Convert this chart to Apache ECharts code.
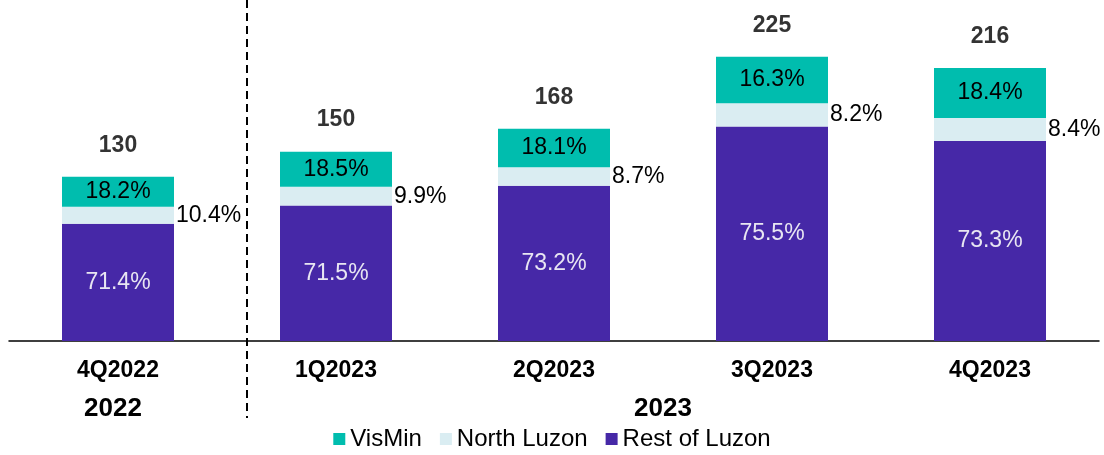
<!DOCTYPE html>
<html>
<head>
<meta charset="utf-8">
<script src="https://cdn.jsdelivr.net/npm/echarts@6/dist/echarts.min.js"></script>
<style>
  html, body { margin: 0; padding: 0; background: #fff; }
  #echart { width: 1104px; height: 455px; }
</style>
</head>
<body>
<div id="echart"></div>
<script>
// --- data ---
var categories = ['4Q2022', '1Q2023', '2Q2023', '3Q2023', '4Q2023'];
var totals     = [130, 150, 168, 225, 216];
var visMinPct  = [18.2, 18.5, 18.1, 16.3, 18.4];
var northPct   = [10.4, 9.9, 8.7, 8.2, 8.4];
var restPct    = [71.4, 71.5, 73.2, 75.5, 73.3];
var yearLabels = ['2022', '2023'];

// shares -> absolute values so the stack height matches each total
function share(pcts) {
	return pcts.map(function(p, i) { return totals[i] * p / 100; });
}

function pctLabel(pcts) {
	return function(params) { return pcts[params.dataIndex].toFixed(1) + '%'; };
}

var font = '"Liberation Sans", Arial, sans-serif';

var eChart = echarts.init(document.getElementById('echart'));

var eChartOption = {
	animation: false,
	textStyle: { fontFamily: font },
	grid: { left: 9, right: 5, top: 0, bottom: 114 },
	legend: {
		data: ['VisMin', 'North Luzon', 'Rest of Luzon'],
		bottom: -1,
		left: 'center',
		icon: 'rect',
		itemWidth: 12,
		itemHeight: 12,
		itemGap: 18,
		textStyle: { fontSize: 24, color: '#000', fontFamily: font, padding: [0, 0, 0, 0] }
	},
	xAxis: {
		type: 'category',
		data: categories,
		axisLine: { lineStyle: { color: '#000', width: 1.5 } },
		axisTick: { show: false },
		axisLabel: { color: '#000', fontSize: 23, fontWeight: 'bold', margin: 18, fontFamily: font }
	},
	yAxis: {
		type: 'value',
		min: 0,
		max: 270,
		show: false
	},
	series: [
		{
			name: 'Rest of Luzon',
			type: 'bar',
			stack: 'total',
			barWidth: 112,
			data: share(restPct),
			itemStyle: { color: '#4628a7' },
			label: {
				show: true,
				position: 'inside',
				color: '#e8e6f2',
				fontSize: 23,
				fontFamily: font,
				formatter: pctLabel(restPct)
			}
		},
		{
			name: 'North Luzon',
			type: 'bar',
			stack: 'total',
			data: share(northPct),
			itemStyle: { color: '#daedf2' },
			label: {
				show: true,
				position: 'right',
				distance: 2,
				color: '#000',
				fontSize: 23,
				fontFamily: font,
				formatter: pctLabel(northPct)
			}
		},
		{
			name: 'VisMin',
			type: 'bar',
			stack: 'total',
			data: share(visMinPct),
			itemStyle: { color: '#00bdae' },
			label: {
				show: true,
				position: 'inside',
				color: '#000',
				fontSize: 23,
				fontFamily: font,
				formatter: pctLabel(visMinPct)
			}
		},
		{
			// totals printed above each stack
			name: 'Total',
			type: 'scatter',
			symbolSize: 0,
			data: totals.map(function(t, i) { return [categories[i], t]; }),
			label: {
				show: true,
				position: 'top',
				distance: 20,
				color: '#000',
				fontSize: 23,
				fontWeight: 'bold',
				fontFamily: font,
				formatter: function(p) { return totals[p.dataIndex]; }
			}
		}
	],
	graphic: [
		{
			type: 'line',
			shape: { x1: 247, y1: 0, x2: 247, y2: 418 },
			style: { stroke: '#000', lineWidth: 2, lineDash: [8, 5] }
		},
		{
			type: 'text',
			x: 113,
			y: 396,
			style: { text: yearLabels[0], font: 'bold 26px ' + font, fill: '#000', textAlign: 'center' }
		},
		{
			type: 'text',
			x: 663,
			y: 396,
			style: { text: yearLabels[1], font: 'bold 26px ' + font, fill: '#000', textAlign: 'center' }
		}
	]
};

eChart.setOption(eChartOption);
</script>
</body>
</html>
